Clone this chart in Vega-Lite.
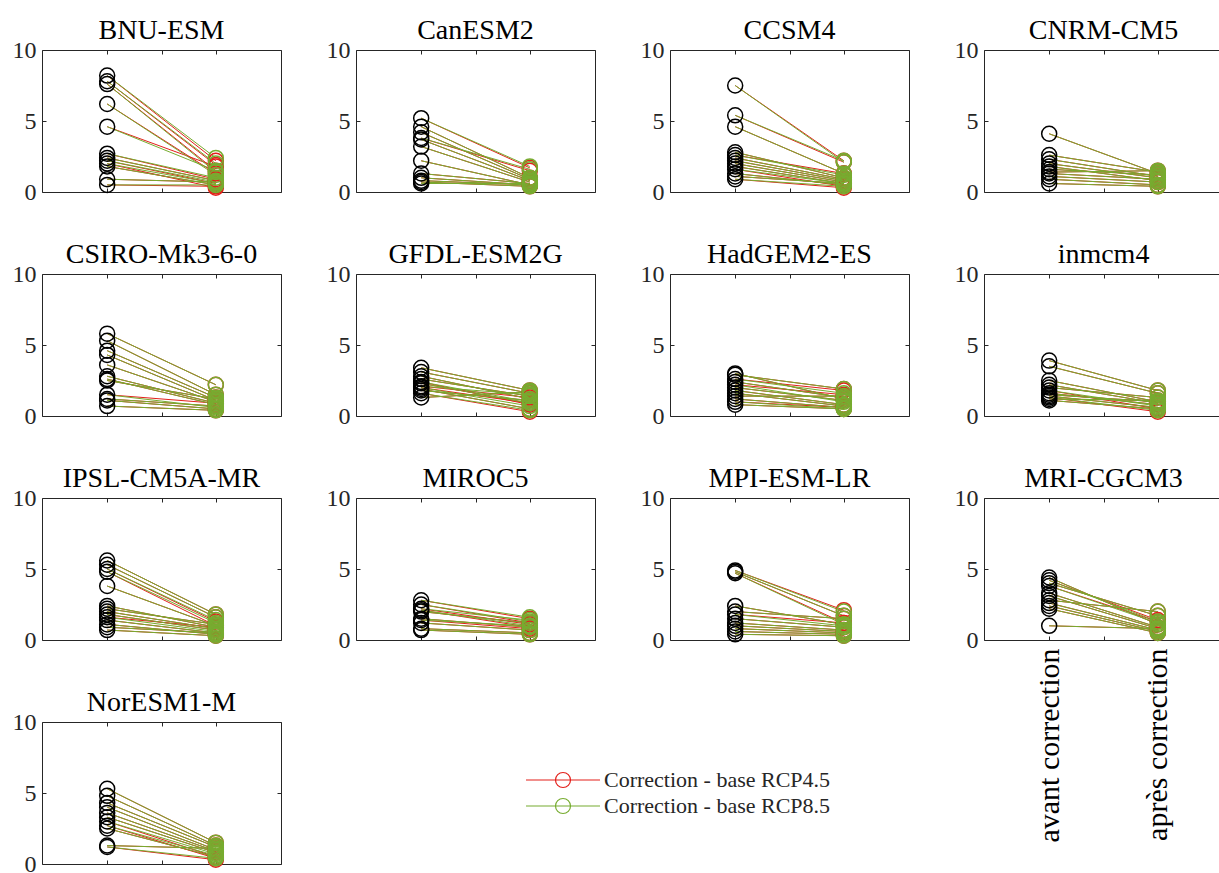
{
"$schema":"https://vega.github.io/schema/vega-lite/v6.json",
"padding":{"left":12,"top":17,"right":0,"bottom":0},
"background":"white",
"bounds":"flush",
"columns":4,
"spacing":{"row":82,"column":75},
"config":{
 "view":{"stroke":null},
 "font":"Liberation Serif",
 "style":{"guide-label":{"font":"Liberation Serif"}},
 "title":{"font":"Liberation Serif","fontSize":28,"fontWeight":"normal","color":"black","anchor":"middle","frame":"group","baseline":"alphabetic","offset":-7},
 "axis":{"domainColor":"#262626","tickColor":"#262626","labelColor":"#262626","labelFont":"Liberation Serif","labelFontSize":24,"tickSize":-4,"grid":false,"title":null,"domainWidth":1,"tickWidth":1,"labelPadding":10,"labelFlush":false,"labelOverlap":false,"labelLimit":0},
 "axisY":{"labelFont":"Liberation Serif"},
 "range":{"category":["#e3201b","#77ac30"]},
 "point":{"opacity":1},
 "rule":{"opacity":1},
 "legend":{"labelFont":"Liberation Serif","labelFontSize":22,"labelColor":"#262626","labelLimit":0,"symbolType":"M-7.4,0L7.4,0M1.5,0A1.5,1.5,0,1,1,-1.5,0A1.5,1.5,0,1,1,1.5,0","symbolSize":100,"symbolStrokeWidth":1.2,"symbolFillColor":"transparent","labelOffset":30,"rowPadding":4,"padding":0}
},
"datasets":{"d":[
{"m":"BNU-ESM","av":8.2,"r45":2.2,"r85":2.4},
{"m":"BNU-ESM","av":7.8,"r45":1.9,"r85":2.0},
{"m":"BNU-ESM","av":7.6,"r45":1.5,"r85":1.4},
{"m":"BNU-ESM","av":6.2,"r45":1.3,"r85":1.2},
{"m":"BNU-ESM","av":4.6,"r45":1.8,"r85":1.5},
{"m":"BNU-ESM","av":2.7,"r45":0.9,"r85":1.0},
{"m":"BNU-ESM","av":2.4,"r45":0.8,"r85":0.8},
{"m":"BNU-ESM","av":2.2,"r45":0.6,"r85":0.7},
{"m":"BNU-ESM","av":2.0,"r45":0.3,"r85":0.6},
{"m":"BNU-ESM","av":1.8,"r45":0.5,"r85":0.5},
{"m":"BNU-ESM","av":0.9,"r45":0.7,"r85":0.7},
{"m":"BNU-ESM","av":0.5,"r45":0.4,"r85":0.5},
{"m":"CanESM2","av":5.2,"r45":1.7,"r85":1.8},
{"m":"CanESM2","av":4.6,"r45":1.0,"r85":1.0},
{"m":"CanESM2","av":4.2,"r45":0.9,"r85":0.9},
{"m":"CanESM2","av":3.8,"r45":1.5,"r85":1.6},
{"m":"CanESM2","av":3.7,"r45":0.8,"r85":0.8},
{"m":"CanESM2","av":3.2,"r45":0.7,"r85":0.7},
{"m":"CanESM2","av":2.2,"r45":0.5,"r85":0.5},
{"m":"CanESM2","av":1.3,"r45":0.6,"r85":0.6},
{"m":"CanESM2","av":1.0,"r45":0.5,"r85":0.5},
{"m":"CanESM2","av":0.8,"r45":0.5,"r85":0.5},
{"m":"CanESM2","av":0.7,"r45":0.4,"r85":0.4},
{"m":"CanESM2","av":0.6,"r45":0.6,"r85":0.6},
{"m":"CCSM4","av":7.5,"r45":2.2,"r85":2.1},
{"m":"CCSM4","av":5.4,"r45":2.1,"r85":2.2},
{"m":"CCSM4","av":4.6,"r45":1.3,"r85":1.3},
{"m":"CCSM4","av":2.8,"r45":1.0,"r85":1.0},
{"m":"CCSM4","av":2.6,"r45":1.3,"r85":1.2},
{"m":"CCSM4","av":2.4,"r45":0.9,"r85":0.9},
{"m":"CCSM4","av":2.2,"r45":0.8,"r85":0.8},
{"m":"CCSM4","av":2.0,"r45":0.7,"r85":0.7},
{"m":"CCSM4","av":1.8,"r45":0.6,"r85":0.6},
{"m":"CCSM4","av":1.6,"r45":0.4,"r85":0.6},
{"m":"CCSM4","av":1.3,"r45":0.5,"r85":0.5},
{"m":"CCSM4","av":1.1,"r45":0.6,"r85":0.6},
{"m":"CCSM4","av":0.9,"r45":0.3,"r85":0.4},
{"m":"CNRM-CM5","av":4.1,"r45":1.3,"r85":1.3},
{"m":"CNRM-CM5","av":2.6,"r45":1.4,"r85":1.4},
{"m":"CNRM-CM5","av":2.3,"r45":1.1,"r85":1.1},
{"m":"CNRM-CM5","av":2.0,"r45":1.0,"r85":1.0},
{"m":"CNRM-CM5","av":1.8,"r45":0.8,"r85":0.8},
{"m":"CNRM-CM5","av":1.6,"r45":1.2,"r85":1.2},
{"m":"CNRM-CM5","av":1.4,"r45":1.5,"r85":1.5},
{"m":"CNRM-CM5","av":1.3,"r45":0.9,"r85":0.9},
{"m":"CNRM-CM5","av":1.1,"r45":0.7,"r85":0.7},
{"m":"CNRM-CM5","av":0.9,"r45":0.5,"r85":0.5},
{"m":"CNRM-CM5","av":0.6,"r45":0.4,"r85":0.4},
{"m":"CSIRO-Mk3-6-0","av":5.8,"r45":2.2,"r85":2.2},
{"m":"CSIRO-Mk3-6-0","av":5.3,"r45":1.5,"r85":1.5},
{"m":"CSIRO-Mk3-6-0","av":4.6,"r45":1.3,"r85":1.3},
{"m":"CSIRO-Mk3-6-0","av":4.3,"r45":1.1,"r85":1.1},
{"m":"CSIRO-Mk3-6-0","av":3.6,"r45":1.0,"r85":1.0},
{"m":"CSIRO-Mk3-6-0","av":2.8,"r45":0.9,"r85":0.9},
{"m":"CSIRO-Mk3-6-0","av":2.6,"r45":0.8,"r85":0.8},
{"m":"CSIRO-Mk3-6-0","av":2.5,"r45":1.2,"r85":1.2},
{"m":"CSIRO-Mk3-6-0","av":1.5,"r45":0.9,"r85":0.6},
{"m":"CSIRO-Mk3-6-0","av":1.2,"r45":0.7,"r85":0.7},
{"m":"CSIRO-Mk3-6-0","av":1.1,"r45":0.5,"r85":0.5},
{"m":"CSIRO-Mk3-6-0","av":0.7,"r45":0.4,"r85":0.4},
{"m":"GFDL-ESM2G","av":3.4,"r45":1.8,"r85":1.8},
{"m":"GFDL-ESM2G","av":3.1,"r45":1.6,"r85":1.6},
{"m":"GFDL-ESM2G","av":2.8,"r45":1.2,"r85":1.2},
{"m":"GFDL-ESM2G","av":2.6,"r45":1.4,"r85":1.4},
{"m":"GFDL-ESM2G","av":2.4,"r45":0.8,"r85":1.0},
{"m":"GFDL-ESM2G","av":2.3,"r45":0.9,"r85":0.9},
{"m":"GFDL-ESM2G","av":2.1,"r45":1.3,"r85":1.5},
{"m":"GFDL-ESM2G","av":2.0,"r45":0.9,"r85":0.7},
{"m":"GFDL-ESM2G","av":1.9,"r45":0.5,"r85":0.5},
{"m":"GFDL-ESM2G","av":1.8,"r45":1.1,"r85":1.1},
{"m":"GFDL-ESM2G","av":1.6,"r45":0.3,"r85":0.4},
{"m":"GFDL-ESM2G","av":1.3,"r45":1.7,"r85":1.7},
{"m":"HadGEM2-ES","av":3.0,"r45":1.2,"r85":1.2},
{"m":"HadGEM2-ES","av":2.9,"r45":1.9,"r85":1.9},
{"m":"HadGEM2-ES","av":2.6,"r45":1.8,"r85":1.6},
{"m":"HadGEM2-ES","av":2.4,"r45":1.3,"r85":1.3},
{"m":"HadGEM2-ES","av":2.2,"r45":1.5,"r85":1.0},
{"m":"HadGEM2-ES","av":2.0,"r45":1.1,"r85":1.1},
{"m":"HadGEM2-ES","av":1.8,"r45":0.8,"r85":0.8},
{"m":"HadGEM2-ES","av":1.6,"r45":0.7,"r85":0.7},
{"m":"HadGEM2-ES","av":1.4,"r45":1.4,"r85":1.4},
{"m":"HadGEM2-ES","av":1.2,"r45":0.6,"r85":0.6},
{"m":"HadGEM2-ES","av":1.0,"r45":0.6,"r85":0.5},
{"m":"HadGEM2-ES","av":0.8,"r45":0.5,"r85":0.5},
{"m":"inmcm4","av":3.9,"r45":1.8,"r85":1.8},
{"m":"inmcm4","av":3.5,"r45":1.6,"r85":1.6},
{"m":"inmcm4","av":2.5,"r45":1.0,"r85":1.0},
{"m":"inmcm4","av":2.2,"r45":0.9,"r85":0.9},
{"m":"inmcm4","av":2.0,"r45":1.3,"r85":1.3},
{"m":"inmcm4","av":1.8,"r45":0.5,"r85":0.7},
{"m":"inmcm4","av":1.6,"r45":0.8,"r85":0.8},
{"m":"inmcm4","av":1.5,"r45":1.0,"r85":1.0},
{"m":"inmcm4","av":1.4,"r45":0.6,"r85":0.6},
{"m":"inmcm4","av":1.3,"r45":0.3,"r85":0.4},
{"m":"inmcm4","av":1.2,"r45":1.1,"r85":1.1},
{"m":"inmcm4","av":1.1,"r45":0.5,"r85":0.5},
{"m":"IPSL-CM5A-MR","av":5.6,"r45":1.8,"r85":1.8},
{"m":"IPSL-CM5A-MR","av":5.3,"r45":1.6,"r85":1.6},
{"m":"IPSL-CM5A-MR","av":5.0,"r45":1.3,"r85":1.4},
{"m":"IPSL-CM5A-MR","av":4.8,"r45":1.0,"r85":1.2},
{"m":"IPSL-CM5A-MR","av":3.8,"r45":1.0,"r85":1.0},
{"m":"IPSL-CM5A-MR","av":2.4,"r45":0.9,"r85":0.9},
{"m":"IPSL-CM5A-MR","av":2.2,"r45":1.1,"r85":1.1},
{"m":"IPSL-CM5A-MR","av":2.0,"r45":0.8,"r85":0.8},
{"m":"IPSL-CM5A-MR","av":1.8,"r45":0.7,"r85":0.7},
{"m":"IPSL-CM5A-MR","av":1.6,"r45":0.9,"r85":0.6},
{"m":"IPSL-CM5A-MR","av":1.4,"r45":0.5,"r85":0.5},
{"m":"IPSL-CM5A-MR","av":1.1,"r45":0.4,"r85":0.4},
{"m":"IPSL-CM5A-MR","av":0.9,"r45":0.5,"r85":0.5},
{"m":"IPSL-CM5A-MR","av":0.7,"r45":0.3,"r85":0.3},
{"m":"MIROC5","av":2.8,"r45":1.5,"r85":1.6},
{"m":"MIROC5","av":2.5,"r45":1.2,"r85":1.3},
{"m":"MIROC5","av":2.2,"r45":1.1,"r85":1.4},
{"m":"MIROC5","av":2.1,"r45":0.9,"r85":1.0},
{"m":"MIROC5","av":2.0,"r45":1.2,"r85":1.2},
{"m":"MIROC5","av":1.5,"r45":0.9,"r85":0.9},
{"m":"MIROC5","av":1.4,"r45":0.8,"r85":1.0},
{"m":"MIROC5","av":1.2,"r45":0.7,"r85":0.7},
{"m":"MIROC5","av":0.8,"r45":0.5,"r85":0.5},
{"m":"MIROC5","av":0.7,"r45":0.4,"r85":0.4},
{"m":"MPI-ESM-LR","av":4.9,"r45":2.1,"r85":2.0},
{"m":"MPI-ESM-LR","av":4.8,"r45":1.7,"r85":1.7},
{"m":"MPI-ESM-LR","av":4.7,"r45":1.2,"r85":1.1},
{"m":"MPI-ESM-LR","av":2.4,"r45":1.1,"r85":1.1},
{"m":"MPI-ESM-LR","av":2.0,"r45":1.5,"r85":1.5},
{"m":"MPI-ESM-LR","av":1.8,"r45":1.2,"r85":1.0},
{"m":"MPI-ESM-LR","av":1.5,"r45":0.9,"r85":0.9},
{"m":"MPI-ESM-LR","av":1.2,"r45":0.7,"r85":0.7},
{"m":"MPI-ESM-LR","av":1.0,"r45":0.6,"r85":0.6},
{"m":"MPI-ESM-LR","av":0.8,"r45":0.5,"r85":0.5},
{"m":"MPI-ESM-LR","av":0.6,"r45":0.4,"r85":0.4},
{"m":"MPI-ESM-LR","av":0.4,"r45":0.3,"r85":0.3},
{"m":"MRI-CGCM3","av":4.4,"r45":1.1,"r85":1.1},
{"m":"MRI-CGCM3","av":4.2,"r45":1.4,"r85":1.3},
{"m":"MRI-CGCM3","av":4.0,"r45":1.7,"r85":1.7},
{"m":"MRI-CGCM3","av":3.8,"r45":1.3,"r85":1.2},
{"m":"MRI-CGCM3","av":3.3,"r45":0.9,"r85":0.9},
{"m":"MRI-CGCM3","av":3.1,"r45":0.8,"r85":0.8},
{"m":"MRI-CGCM3","av":2.8,"r45":2.0,"r85":2.0},
{"m":"MRI-CGCM3","av":2.6,"r45":0.7,"r85":0.7},
{"m":"MRI-CGCM3","av":2.4,"r45":0.6,"r85":0.6},
{"m":"MRI-CGCM3","av":2.2,"r45":0.5,"r85":0.5},
{"m":"MRI-CGCM3","av":1.0,"r45":0.8,"r85":0.8},
{"m":"NorESM1-M","av":5.3,"r45":1.5,"r85":1.5},
{"m":"NorESM1-M","av":4.8,"r45":1.3,"r85":1.3},
{"m":"NorESM1-M","av":4.3,"r45":1.2,"r85":1.2},
{"m":"NorESM1-M","av":4.0,"r45":1.0,"r85":1.0},
{"m":"NorESM1-M","av":3.6,"r45":0.9,"r85":0.9},
{"m":"NorESM1-M","av":3.3,"r45":0.8,"r85":0.8},
{"m":"NorESM1-M","av":3.0,"r45":0.5,"r85":0.7},
{"m":"NorESM1-M","av":2.7,"r45":0.4,"r85":0.6},
{"m":"NorESM1-M","av":2.5,"r45":0.5,"r85":0.5},
{"m":"NorESM1-M","av":1.3,"r45":1.1,"r85":1.1},
{"m":"NorESM1-M","av":1.2,"r45":0.3,"r85":0.4}
]},
"concat":[
{"title":"BNU-ESM","width":239,"height":142,"data":{"name":"d"},"transform":[{"filter":"datum.m === 'BNU-ESM'"}],"resolve":{"axis":{"x":"independent","y":"independent"}},"layer":[
 {"mark":{"type":"rule","strokeWidth":1},"encoding":{"x":{"datum":1,"type":"quantitative","scale":{"domain":[0.5,2.5]},"axis":{"orient":"bottom","values":[1,1.5,2],"labels":false}},"x2":{"datum":2},"y":{"field":"av","type":"quantitative","scale":{"domain":[0,10]},"axis":{"orient":"left","values":[0,5,10]}},"y2":{"field":"r45"},"color":{"datum":"Correction - base RCP4.5","type":"nominal","legend":{"orient":"none","legendX":510,"legendY":719,"title":null}}}},
 {"mark":{"type":"rule","strokeWidth":1},"encoding":{"x":{"datum":1,"type":"quantitative","axis":null},"x2":{"datum":2},"y":{"field":"av","type":"quantitative","axis":null},"y2":{"field":"r85"},"color":{"datum":"Correction - base RCP8.5","type":"nominal"}}},
 {"mark":{"type":"point","shape":"circle","size":225,"strokeWidth":1.5},"encoding":{"x":{"datum":2,"type":"quantitative","axis":null},"y":{"field":"r45","type":"quantitative","axis":null},"color":{"datum":"Correction - base RCP4.5","type":"nominal"}}},
 {"mark":{"type":"point","shape":"circle","size":225,"strokeWidth":1.5},"encoding":{"x":{"datum":2,"type":"quantitative","axis":null},"y":{"field":"r85","type":"quantitative","axis":null},"color":{"datum":"Correction - base RCP8.5","type":"nominal"}}},
 {"mark":{"type":"point","shape":"circle","size":225,"strokeWidth":1.5,"color":"black"},"encoding":{"x":{"datum":1,"type":"quantitative","axis":{"orient":"top","values":[1,1.5,2],"labels":false}},"y":{"field":"av","type":"quantitative","axis":{"orient":"right","values":[0,5,10],"labels":false}}}}
]},
{"title":"CanESM2","width":239,"height":142,"data":{"name":"d"},"transform":[{"filter":"datum.m === 'CanESM2'"}],"resolve":{"axis":{"x":"independent","y":"independent"}},"layer":[
 {"mark":{"type":"rule","strokeWidth":1},"encoding":{"x":{"datum":1,"type":"quantitative","scale":{"domain":[0.5,2.5]},"axis":{"orient":"bottom","values":[1,1.5,2],"labels":false}},"x2":{"datum":2},"y":{"field":"av","type":"quantitative","scale":{"domain":[0,10]},"axis":{"orient":"left","values":[0,5,10]}},"y2":{"field":"r45"},"color":{"datum":"Correction - base RCP4.5","type":"nominal"}}},
 {"mark":{"type":"rule","strokeWidth":1},"encoding":{"x":{"datum":1,"type":"quantitative","axis":null},"x2":{"datum":2},"y":{"field":"av","type":"quantitative","axis":null},"y2":{"field":"r85"},"color":{"datum":"Correction - base RCP8.5","type":"nominal"}}},
 {"mark":{"type":"point","shape":"circle","size":225,"strokeWidth":1.5},"encoding":{"x":{"datum":2,"type":"quantitative","axis":null},"y":{"field":"r45","type":"quantitative","axis":null},"color":{"datum":"Correction - base RCP4.5","type":"nominal"}}},
 {"mark":{"type":"point","shape":"circle","size":225,"strokeWidth":1.5},"encoding":{"x":{"datum":2,"type":"quantitative","axis":null},"y":{"field":"r85","type":"quantitative","axis":null},"color":{"datum":"Correction - base RCP8.5","type":"nominal"}}},
 {"mark":{"type":"point","shape":"circle","size":225,"strokeWidth":1.5,"color":"black"},"encoding":{"x":{"datum":1,"type":"quantitative","axis":{"orient":"top","values":[1,1.5,2],"labels":false}},"y":{"field":"av","type":"quantitative","axis":{"orient":"right","values":[0,5,10],"labels":false}}}}
]},
{"title":"CCSM4","width":239,"height":142,"data":{"name":"d"},"transform":[{"filter":"datum.m === 'CCSM4'"}],"resolve":{"axis":{"x":"independent","y":"independent"}},"layer":[
 {"mark":{"type":"rule","strokeWidth":1},"encoding":{"x":{"datum":1,"type":"quantitative","scale":{"domain":[0.5,2.5]},"axis":{"orient":"bottom","values":[1,1.5,2],"labels":false}},"x2":{"datum":2},"y":{"field":"av","type":"quantitative","scale":{"domain":[0,10]},"axis":{"orient":"left","values":[0,5,10]}},"y2":{"field":"r45"},"color":{"datum":"Correction - base RCP4.5","type":"nominal"}}},
 {"mark":{"type":"rule","strokeWidth":1},"encoding":{"x":{"datum":1,"type":"quantitative","axis":null},"x2":{"datum":2},"y":{"field":"av","type":"quantitative","axis":null},"y2":{"field":"r85"},"color":{"datum":"Correction - base RCP8.5","type":"nominal"}}},
 {"mark":{"type":"point","shape":"circle","size":225,"strokeWidth":1.5},"encoding":{"x":{"datum":2,"type":"quantitative","axis":null},"y":{"field":"r45","type":"quantitative","axis":null},"color":{"datum":"Correction - base RCP4.5","type":"nominal"}}},
 {"mark":{"type":"point","shape":"circle","size":225,"strokeWidth":1.5},"encoding":{"x":{"datum":2,"type":"quantitative","axis":null},"y":{"field":"r85","type":"quantitative","axis":null},"color":{"datum":"Correction - base RCP8.5","type":"nominal"}}},
 {"mark":{"type":"point","shape":"circle","size":225,"strokeWidth":1.5,"color":"black"},"encoding":{"x":{"datum":1,"type":"quantitative","axis":{"orient":"top","values":[1,1.5,2],"labels":false}},"y":{"field":"av","type":"quantitative","axis":{"orient":"right","values":[0,5,10],"labels":false}}}}
]},
{"title":"CNRM-CM5","width":239,"height":142,"data":{"name":"d"},"transform":[{"filter":"datum.m === 'CNRM-CM5'"}],"resolve":{"axis":{"x":"independent","y":"independent"}},"layer":[
 {"mark":{"type":"rule","strokeWidth":1},"encoding":{"x":{"datum":1,"type":"quantitative","scale":{"domain":[0.5,2.5]},"axis":{"orient":"bottom","values":[1,1.5,2],"labels":false}},"x2":{"datum":2},"y":{"field":"av","type":"quantitative","scale":{"domain":[0,10]},"axis":{"orient":"left","values":[0,5,10]}},"y2":{"field":"r45"},"color":{"datum":"Correction - base RCP4.5","type":"nominal"}}},
 {"mark":{"type":"rule","strokeWidth":1},"encoding":{"x":{"datum":1,"type":"quantitative","axis":null},"x2":{"datum":2},"y":{"field":"av","type":"quantitative","axis":null},"y2":{"field":"r85"},"color":{"datum":"Correction - base RCP8.5","type":"nominal"}}},
 {"mark":{"type":"point","shape":"circle","size":225,"strokeWidth":1.5},"encoding":{"x":{"datum":2,"type":"quantitative","axis":null},"y":{"field":"r45","type":"quantitative","axis":null},"color":{"datum":"Correction - base RCP4.5","type":"nominal"}}},
 {"mark":{"type":"point","shape":"circle","size":225,"strokeWidth":1.5},"encoding":{"x":{"datum":2,"type":"quantitative","axis":null},"y":{"field":"r85","type":"quantitative","axis":null},"color":{"datum":"Correction - base RCP8.5","type":"nominal"}}},
 {"mark":{"type":"point","shape":"circle","size":225,"strokeWidth":1.5,"color":"black"},"encoding":{"x":{"datum":1,"type":"quantitative","axis":{"orient":"top","values":[1,1.5,2],"labels":false}},"y":{"field":"av","type":"quantitative","axis":{"orient":"right","values":[0,5,10],"labels":false}}}}
]},
{"title":"CSIRO-Mk3-6-0","width":239,"height":142,"data":{"name":"d"},"transform":[{"filter":"datum.m === 'CSIRO-Mk3-6-0'"}],"resolve":{"axis":{"x":"independent","y":"independent"}},"layer":[
 {"mark":{"type":"rule","strokeWidth":1},"encoding":{"x":{"datum":1,"type":"quantitative","scale":{"domain":[0.5,2.5]},"axis":{"orient":"bottom","values":[1,1.5,2],"labels":false}},"x2":{"datum":2},"y":{"field":"av","type":"quantitative","scale":{"domain":[0,10]},"axis":{"orient":"left","values":[0,5,10]}},"y2":{"field":"r45"},"color":{"datum":"Correction - base RCP4.5","type":"nominal"}}},
 {"mark":{"type":"rule","strokeWidth":1},"encoding":{"x":{"datum":1,"type":"quantitative","axis":null},"x2":{"datum":2},"y":{"field":"av","type":"quantitative","axis":null},"y2":{"field":"r85"},"color":{"datum":"Correction - base RCP8.5","type":"nominal"}}},
 {"mark":{"type":"point","shape":"circle","size":225,"strokeWidth":1.5},"encoding":{"x":{"datum":2,"type":"quantitative","axis":null},"y":{"field":"r45","type":"quantitative","axis":null},"color":{"datum":"Correction - base RCP4.5","type":"nominal"}}},
 {"mark":{"type":"point","shape":"circle","size":225,"strokeWidth":1.5},"encoding":{"x":{"datum":2,"type":"quantitative","axis":null},"y":{"field":"r85","type":"quantitative","axis":null},"color":{"datum":"Correction - base RCP8.5","type":"nominal"}}},
 {"mark":{"type":"point","shape":"circle","size":225,"strokeWidth":1.5,"color":"black"},"encoding":{"x":{"datum":1,"type":"quantitative","axis":{"orient":"top","values":[1,1.5,2],"labels":false}},"y":{"field":"av","type":"quantitative","axis":{"orient":"right","values":[0,5,10],"labels":false}}}}
]},
{"title":"GFDL-ESM2G","width":239,"height":142,"data":{"name":"d"},"transform":[{"filter":"datum.m === 'GFDL-ESM2G'"}],"resolve":{"axis":{"x":"independent","y":"independent"}},"layer":[
 {"mark":{"type":"rule","strokeWidth":1},"encoding":{"x":{"datum":1,"type":"quantitative","scale":{"domain":[0.5,2.5]},"axis":{"orient":"bottom","values":[1,1.5,2],"labels":false}},"x2":{"datum":2},"y":{"field":"av","type":"quantitative","scale":{"domain":[0,10]},"axis":{"orient":"left","values":[0,5,10]}},"y2":{"field":"r45"},"color":{"datum":"Correction - base RCP4.5","type":"nominal"}}},
 {"mark":{"type":"rule","strokeWidth":1},"encoding":{"x":{"datum":1,"type":"quantitative","axis":null},"x2":{"datum":2},"y":{"field":"av","type":"quantitative","axis":null},"y2":{"field":"r85"},"color":{"datum":"Correction - base RCP8.5","type":"nominal"}}},
 {"mark":{"type":"point","shape":"circle","size":225,"strokeWidth":1.5},"encoding":{"x":{"datum":2,"type":"quantitative","axis":null},"y":{"field":"r45","type":"quantitative","axis":null},"color":{"datum":"Correction - base RCP4.5","type":"nominal"}}},
 {"mark":{"type":"point","shape":"circle","size":225,"strokeWidth":1.5},"encoding":{"x":{"datum":2,"type":"quantitative","axis":null},"y":{"field":"r85","type":"quantitative","axis":null},"color":{"datum":"Correction - base RCP8.5","type":"nominal"}}},
 {"mark":{"type":"point","shape":"circle","size":225,"strokeWidth":1.5,"color":"black"},"encoding":{"x":{"datum":1,"type":"quantitative","axis":{"orient":"top","values":[1,1.5,2],"labels":false}},"y":{"field":"av","type":"quantitative","axis":{"orient":"right","values":[0,5,10],"labels":false}}}}
]},
{"title":"HadGEM2-ES","width":239,"height":142,"data":{"name":"d"},"transform":[{"filter":"datum.m === 'HadGEM2-ES'"}],"resolve":{"axis":{"x":"independent","y":"independent"}},"layer":[
 {"mark":{"type":"rule","strokeWidth":1},"encoding":{"x":{"datum":1,"type":"quantitative","scale":{"domain":[0.5,2.5]},"axis":{"orient":"bottom","values":[1,1.5,2],"labels":false}},"x2":{"datum":2},"y":{"field":"av","type":"quantitative","scale":{"domain":[0,10]},"axis":{"orient":"left","values":[0,5,10]}},"y2":{"field":"r45"},"color":{"datum":"Correction - base RCP4.5","type":"nominal"}}},
 {"mark":{"type":"rule","strokeWidth":1},"encoding":{"x":{"datum":1,"type":"quantitative","axis":null},"x2":{"datum":2},"y":{"field":"av","type":"quantitative","axis":null},"y2":{"field":"r85"},"color":{"datum":"Correction - base RCP8.5","type":"nominal"}}},
 {"mark":{"type":"point","shape":"circle","size":225,"strokeWidth":1.5},"encoding":{"x":{"datum":2,"type":"quantitative","axis":null},"y":{"field":"r45","type":"quantitative","axis":null},"color":{"datum":"Correction - base RCP4.5","type":"nominal"}}},
 {"mark":{"type":"point","shape":"circle","size":225,"strokeWidth":1.5},"encoding":{"x":{"datum":2,"type":"quantitative","axis":null},"y":{"field":"r85","type":"quantitative","axis":null},"color":{"datum":"Correction - base RCP8.5","type":"nominal"}}},
 {"mark":{"type":"point","shape":"circle","size":225,"strokeWidth":1.5,"color":"black"},"encoding":{"x":{"datum":1,"type":"quantitative","axis":{"orient":"top","values":[1,1.5,2],"labels":false}},"y":{"field":"av","type":"quantitative","axis":{"orient":"right","values":[0,5,10],"labels":false}}}}
]},
{"title":"inmcm4","width":239,"height":142,"data":{"name":"d"},"transform":[{"filter":"datum.m === 'inmcm4'"}],"resolve":{"axis":{"x":"independent","y":"independent"}},"layer":[
 {"mark":{"type":"rule","strokeWidth":1},"encoding":{"x":{"datum":1,"type":"quantitative","scale":{"domain":[0.5,2.5]},"axis":{"orient":"bottom","values":[1,1.5,2],"labels":false}},"x2":{"datum":2},"y":{"field":"av","type":"quantitative","scale":{"domain":[0,10]},"axis":{"orient":"left","values":[0,5,10]}},"y2":{"field":"r45"},"color":{"datum":"Correction - base RCP4.5","type":"nominal"}}},
 {"mark":{"type":"rule","strokeWidth":1},"encoding":{"x":{"datum":1,"type":"quantitative","axis":null},"x2":{"datum":2},"y":{"field":"av","type":"quantitative","axis":null},"y2":{"field":"r85"},"color":{"datum":"Correction - base RCP8.5","type":"nominal"}}},
 {"mark":{"type":"point","shape":"circle","size":225,"strokeWidth":1.5},"encoding":{"x":{"datum":2,"type":"quantitative","axis":null},"y":{"field":"r45","type":"quantitative","axis":null},"color":{"datum":"Correction - base RCP4.5","type":"nominal"}}},
 {"mark":{"type":"point","shape":"circle","size":225,"strokeWidth":1.5},"encoding":{"x":{"datum":2,"type":"quantitative","axis":null},"y":{"field":"r85","type":"quantitative","axis":null},"color":{"datum":"Correction - base RCP8.5","type":"nominal"}}},
 {"mark":{"type":"point","shape":"circle","size":225,"strokeWidth":1.5,"color":"black"},"encoding":{"x":{"datum":1,"type":"quantitative","axis":{"orient":"top","values":[1,1.5,2],"labels":false}},"y":{"field":"av","type":"quantitative","axis":{"orient":"right","values":[0,5,10],"labels":false}}}}
]},
{"title":"IPSL-CM5A-MR","width":239,"height":142,"data":{"name":"d"},"transform":[{"filter":"datum.m === 'IPSL-CM5A-MR'"}],"resolve":{"axis":{"x":"independent","y":"independent"}},"layer":[
 {"mark":{"type":"rule","strokeWidth":1},"encoding":{"x":{"datum":1,"type":"quantitative","scale":{"domain":[0.5,2.5]},"axis":{"orient":"bottom","values":[1,1.5,2],"labels":false}},"x2":{"datum":2},"y":{"field":"av","type":"quantitative","scale":{"domain":[0,10]},"axis":{"orient":"left","values":[0,5,10]}},"y2":{"field":"r45"},"color":{"datum":"Correction - base RCP4.5","type":"nominal"}}},
 {"mark":{"type":"rule","strokeWidth":1},"encoding":{"x":{"datum":1,"type":"quantitative","axis":null},"x2":{"datum":2},"y":{"field":"av","type":"quantitative","axis":null},"y2":{"field":"r85"},"color":{"datum":"Correction - base RCP8.5","type":"nominal"}}},
 {"mark":{"type":"point","shape":"circle","size":225,"strokeWidth":1.5},"encoding":{"x":{"datum":2,"type":"quantitative","axis":null},"y":{"field":"r45","type":"quantitative","axis":null},"color":{"datum":"Correction - base RCP4.5","type":"nominal"}}},
 {"mark":{"type":"point","shape":"circle","size":225,"strokeWidth":1.5},"encoding":{"x":{"datum":2,"type":"quantitative","axis":null},"y":{"field":"r85","type":"quantitative","axis":null},"color":{"datum":"Correction - base RCP8.5","type":"nominal"}}},
 {"mark":{"type":"point","shape":"circle","size":225,"strokeWidth":1.5,"color":"black"},"encoding":{"x":{"datum":1,"type":"quantitative","axis":{"orient":"top","values":[1,1.5,2],"labels":false}},"y":{"field":"av","type":"quantitative","axis":{"orient":"right","values":[0,5,10],"labels":false}}}}
]},
{"title":"MIROC5","width":239,"height":142,"data":{"name":"d"},"transform":[{"filter":"datum.m === 'MIROC5'"}],"resolve":{"axis":{"x":"independent","y":"independent"}},"layer":[
 {"mark":{"type":"rule","strokeWidth":1},"encoding":{"x":{"datum":1,"type":"quantitative","scale":{"domain":[0.5,2.5]},"axis":{"orient":"bottom","values":[1,1.5,2],"labels":false}},"x2":{"datum":2},"y":{"field":"av","type":"quantitative","scale":{"domain":[0,10]},"axis":{"orient":"left","values":[0,5,10]}},"y2":{"field":"r45"},"color":{"datum":"Correction - base RCP4.5","type":"nominal"}}},
 {"mark":{"type":"rule","strokeWidth":1},"encoding":{"x":{"datum":1,"type":"quantitative","axis":null},"x2":{"datum":2},"y":{"field":"av","type":"quantitative","axis":null},"y2":{"field":"r85"},"color":{"datum":"Correction - base RCP8.5","type":"nominal"}}},
 {"mark":{"type":"point","shape":"circle","size":225,"strokeWidth":1.5},"encoding":{"x":{"datum":2,"type":"quantitative","axis":null},"y":{"field":"r45","type":"quantitative","axis":null},"color":{"datum":"Correction - base RCP4.5","type":"nominal"}}},
 {"mark":{"type":"point","shape":"circle","size":225,"strokeWidth":1.5},"encoding":{"x":{"datum":2,"type":"quantitative","axis":null},"y":{"field":"r85","type":"quantitative","axis":null},"color":{"datum":"Correction - base RCP8.5","type":"nominal"}}},
 {"mark":{"type":"point","shape":"circle","size":225,"strokeWidth":1.5,"color":"black"},"encoding":{"x":{"datum":1,"type":"quantitative","axis":{"orient":"top","values":[1,1.5,2],"labels":false}},"y":{"field":"av","type":"quantitative","axis":{"orient":"right","values":[0,5,10],"labels":false}}}}
]},
{"title":"MPI-ESM-LR","width":239,"height":142,"data":{"name":"d"},"transform":[{"filter":"datum.m === 'MPI-ESM-LR'"}],"resolve":{"axis":{"x":"independent","y":"independent"}},"layer":[
 {"mark":{"type":"rule","strokeWidth":1},"encoding":{"x":{"datum":1,"type":"quantitative","scale":{"domain":[0.5,2.5]},"axis":{"orient":"bottom","values":[1,1.5,2],"labels":false}},"x2":{"datum":2},"y":{"field":"av","type":"quantitative","scale":{"domain":[0,10]},"axis":{"orient":"left","values":[0,5,10]}},"y2":{"field":"r45"},"color":{"datum":"Correction - base RCP4.5","type":"nominal"}}},
 {"mark":{"type":"rule","strokeWidth":1},"encoding":{"x":{"datum":1,"type":"quantitative","axis":null},"x2":{"datum":2},"y":{"field":"av","type":"quantitative","axis":null},"y2":{"field":"r85"},"color":{"datum":"Correction - base RCP8.5","type":"nominal"}}},
 {"mark":{"type":"point","shape":"circle","size":225,"strokeWidth":1.5},"encoding":{"x":{"datum":2,"type":"quantitative","axis":null},"y":{"field":"r45","type":"quantitative","axis":null},"color":{"datum":"Correction - base RCP4.5","type":"nominal"}}},
 {"mark":{"type":"point","shape":"circle","size":225,"strokeWidth":1.5},"encoding":{"x":{"datum":2,"type":"quantitative","axis":null},"y":{"field":"r85","type":"quantitative","axis":null},"color":{"datum":"Correction - base RCP8.5","type":"nominal"}}},
 {"mark":{"type":"point","shape":"circle","size":225,"strokeWidth":1.5,"color":"black"},"encoding":{"x":{"datum":1,"type":"quantitative","axis":{"orient":"top","values":[1,1.5,2],"labels":false}},"y":{"field":"av","type":"quantitative","axis":{"orient":"right","values":[0,5,10],"labels":false}}}}
]},
{"title":"MRI-CGCM3","width":239,"height":142,"data":{"name":"d"},"transform":[{"filter":"datum.m === 'MRI-CGCM3'"}],"resolve":{"axis":{"x":"independent","y":"independent"}},"layer":[
 {"mark":{"type":"rule","strokeWidth":1},"encoding":{"x":{"datum":1,"type":"quantitative","scale":{"domain":[0.5,2.5]},"axis":{"orient":"bottom","values":[1,1.5,2],"labelExpr":"datum.value == 1 ? 'avant correction' : datum.value == 2 ? 'après correction' : ''","labelAngle":-90,"labelFont":"Liberation Serif","labelFontSize":30,"labelPadding":12,"labelLimit":0,"labelColor":"black"}},"x2":{"datum":2},"y":{"field":"av","type":"quantitative","scale":{"domain":[0,10]},"axis":{"orient":"left","values":[0,5,10]}},"y2":{"field":"r45"},"color":{"datum":"Correction - base RCP4.5","type":"nominal"}}},
 {"mark":{"type":"rule","strokeWidth":1},"encoding":{"x":{"datum":1,"type":"quantitative","axis":null},"x2":{"datum":2},"y":{"field":"av","type":"quantitative","axis":null},"y2":{"field":"r85"},"color":{"datum":"Correction - base RCP8.5","type":"nominal"}}},
 {"mark":{"type":"point","shape":"circle","size":225,"strokeWidth":1.5},"encoding":{"x":{"datum":2,"type":"quantitative","axis":null},"y":{"field":"r45","type":"quantitative","axis":null},"color":{"datum":"Correction - base RCP4.5","type":"nominal"}}},
 {"mark":{"type":"point","shape":"circle","size":225,"strokeWidth":1.5},"encoding":{"x":{"datum":2,"type":"quantitative","axis":null},"y":{"field":"r85","type":"quantitative","axis":null},"color":{"datum":"Correction - base RCP8.5","type":"nominal"}}},
 {"mark":{"type":"point","shape":"circle","size":225,"strokeWidth":1.5,"color":"black"},"encoding":{"x":{"datum":1,"type":"quantitative","axis":{"orient":"top","values":[1,1.5,2],"labels":false}},"y":{"field":"av","type":"quantitative","axis":{"orient":"right","values":[0,5,10],"labels":false}}}}
]},
{"title":"NorESM1-M","width":239,"height":142,"data":{"name":"d"},"transform":[{"filter":"datum.m === 'NorESM1-M'"}],"resolve":{"axis":{"x":"independent","y":"independent"}},"layer":[
 {"mark":{"type":"rule","strokeWidth":1},"encoding":{"x":{"datum":1,"type":"quantitative","scale":{"domain":[0.5,2.5]},"axis":{"orient":"bottom","values":[1,1.5,2],"labels":false}},"x2":{"datum":2},"y":{"field":"av","type":"quantitative","scale":{"domain":[0,10]},"axis":{"orient":"left","values":[0,5,10]}},"y2":{"field":"r45"},"color":{"datum":"Correction - base RCP4.5","type":"nominal"}}},
 {"mark":{"type":"rule","strokeWidth":1},"encoding":{"x":{"datum":1,"type":"quantitative","axis":null},"x2":{"datum":2},"y":{"field":"av","type":"quantitative","axis":null},"y2":{"field":"r85"},"color":{"datum":"Correction - base RCP8.5","type":"nominal"}}},
 {"mark":{"type":"point","shape":"circle","size":225,"strokeWidth":1.5},"encoding":{"x":{"datum":2,"type":"quantitative","axis":null},"y":{"field":"r45","type":"quantitative","axis":null},"color":{"datum":"Correction - base RCP4.5","type":"nominal"}}},
 {"mark":{"type":"point","shape":"circle","size":225,"strokeWidth":1.5},"encoding":{"x":{"datum":2,"type":"quantitative","axis":null},"y":{"field":"r85","type":"quantitative","axis":null},"color":{"datum":"Correction - base RCP8.5","type":"nominal"}}},
 {"mark":{"type":"point","shape":"circle","size":225,"strokeWidth":1.5,"color":"black"},"encoding":{"x":{"datum":1,"type":"quantitative","axis":{"orient":"top","values":[1,1.5,2],"labels":false}},"y":{"field":"av","type":"quantitative","axis":{"orient":"right","values":[0,5,10],"labels":false}}}}
]}
]
}
